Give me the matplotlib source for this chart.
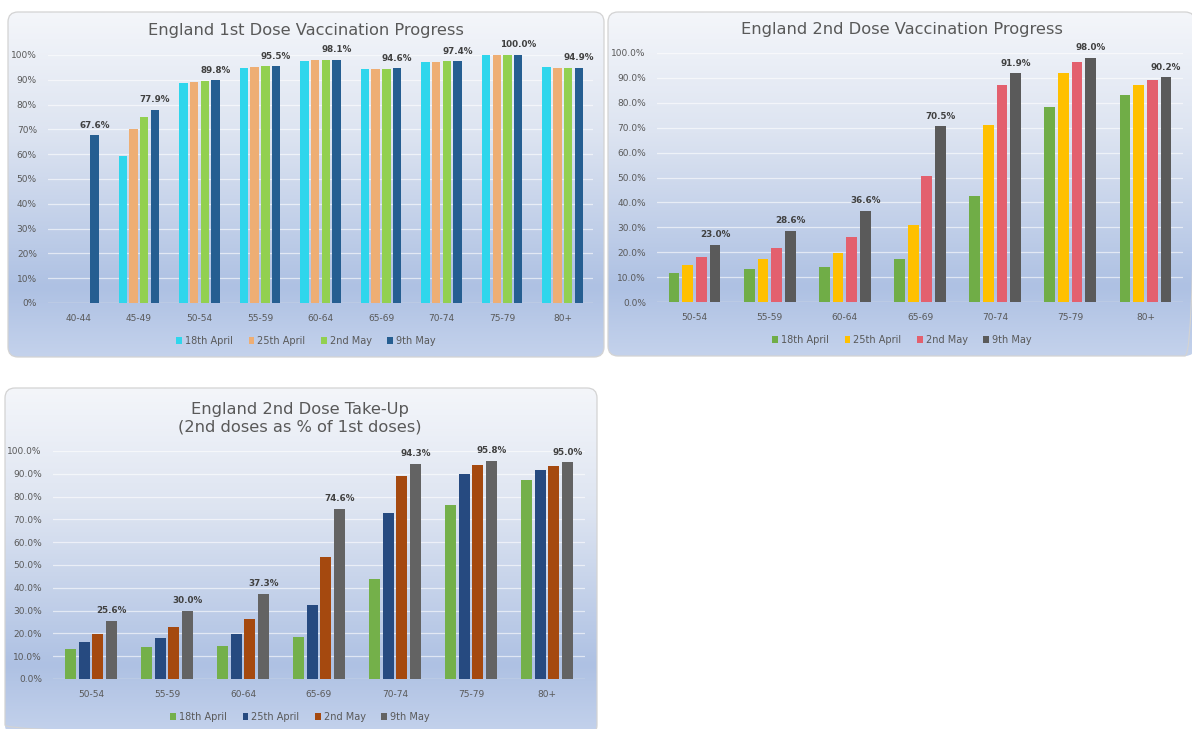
import matplotlib

matplotlib.use("Agg")

import matplotlib.pyplot as plt
import numpy as np
from matplotlib.patches import FancyBboxPatch, Patch
from matplotlib.colors import to_rgb

# ---- data ----
dates = ["18th April", "25th April", "2nd May", "9th May"]

ages_first = ["40-44", "45-49", "50-54", "55-59", "60-64", "65-69", "70-74", "75-79", "80+"]
first_apr18 = [np.nan, 59.4, 88.9, 94.9, 97.7, 94.3, 97.3, 99.9, 95.0]
first_apr25 = [np.nan, 70.2, 89.3, 95.2, 98.0, 94.4, 97.3, 100.0, 94.9]
first_may02 = [np.nan, 74.8, 89.6, 95.4, 98.0, 94.5, 97.4, 100.0, 94.9]
first_may09 = [67.6, 77.9, 89.8, 95.5, 98.1, 94.6, 97.4, 100.0, 94.9]

ages_second = ["50-54", "55-59", "60-64", "65-69", "70-74", "75-79", "80+"]
second_apr18 = [11.7, 13.3, 14.1, 17.2, 42.7, 78.2, 83.1]
second_apr25 = [14.8, 17.3, 19.7, 30.8, 71.0, 92.0, 87.0]
second_may02 = [18.0, 21.6, 26.1, 50.5, 87.0, 96.2, 89.0]
second_may09 = [23.0, 28.6, 36.6, 70.5, 91.9, 98.0, 90.2]

takeup_apr18 = [13.1, 14.1, 14.3, 18.4, 43.9, 76.3, 87.4]
takeup_apr25 = [16.3, 18.1, 19.8, 32.5, 72.7, 89.8, 91.5]
takeup_may02 = [19.8, 22.6, 26.5, 53.3, 88.9, 93.7, 93.6]
takeup_may09 = [25.6, 30.0, 37.3, 74.6, 94.3, 95.8, 95.0]

W, H = 1192, 729
TXT = "#595959"

fig = plt.figure(figsize=(W / 100, H / 100), dpi=100, facecolor="white")

# background layer in pixel coordinates
bg = fig.add_axes([0, 0, 1, 1])
bg.set_xlim(0, W)
bg.set_ylim(H, 0)
bg.axis("off")

stops = [(0.0, "#F4F6FA"), (0.35, "#DDE4F1"), (0.8, "#AEC1E3"), (1.0, "#C4D2EC")]
pos = np.linspace(0, 1, 256)
grad = np.zeros((256, 1, 3))
for c in range(3):
    grad[:, 0, c] = np.interp(pos, [s[0] for s in stops], [to_rgb(s[1])[c] for s in stops])


def panel_box(x0, y0, x1, y1):
    box = FancyBboxPatch((x0, y0), x1 - x0, y1 - y0,
                         boxstyle="round,pad=0,rounding_size=10",
                         facecolor="none", edgecolor="#D3D3D3", linewidth=0.9, zorder=2)
    bg.add_patch(box)
    im = bg.imshow(grad, extent=[x0, x1, y1, y0], aspect="auto", zorder=1)
    im.set_clip_path(box)


panel_box(8, 12, 604, 357)
panel_box(608, 12, 1195, 356)
panel_box(5, 388, 597, 735)


def px_axes(x0, y0, x1, y1):
    return fig.add_axes([x0 / W, 1 - y1 / H, (x1 - x0) / W, (y1 - y0) / H])


def bar_panel(ax, cats, series, colors, step, width, tick_fmt, title, title_y, legend_y, cx):
    x = np.arange(len(cats))
    for i, (vals, col) in enumerate(zip(series, colors)):
        ax.bar(x + (i - 1.5) * step, vals, width=width, color=col, zorder=3)
    # labels only on the latest series
    for xi, v in zip(x, series[-1]):
        ax.annotate("{:.1f}%".format(v), (xi + 1.5 * step, v), xytext=(0, 4),
                    textcoords="offset points", ha="center", va="bottom",
                    fontsize=6.3, fontweight="bold", color="#404040", zorder=4)
    ax.set_facecolor("none")
    ax.set_xlim(-0.5, len(cats) - 0.5)
    ax.set_ylim(0, 100)
    ticks = np.arange(0, 101, 10)
    ax.set_yticks(ticks)
    ax.set_yticklabels([tick_fmt.format(t) for t in ticks])
    ax.set_xticks(x)
    ax.set_xticklabels(cats)
    ax.tick_params(length=0, labelsize=6.5, labelcolor=TXT)
    ax.tick_params(axis="x", pad=8)
    ax.tick_params(axis="y", pad=8)
    for s in ax.spines.values():
        s.set_visible(False)
    ax.grid(axis="y", color="white", alpha=0.6, linewidth=0.9, zorder=0)
    ax.axhline(0, color="#D9D9D9", linewidth=0.9, zorder=2)
    bg.text(cx, title_y, title, ha="center", va="center", fontsize=11.7,
            color=TXT, linespacing=1.2, zorder=5)
    handles = [Patch(facecolor=c, label=d) for c, d in zip(colors, dates)]
    leg = fig.legend(handles=handles, loc="center", ncol=4, frameon=False,
                     bbox_to_anchor=(cx / W, 1 - legend_y / H), fontsize=7,
                     handlelength=0.6, handleheight=0.6, handletextpad=0.3,
                     columnspacing=1.6)
    for t in leg.get_texts():
        t.set_color(TXT)


ax1 = px_axes(48, 55, 593, 303)
bar_panel(ax1, ages_first, [first_apr18, first_apr25, first_may02, first_may09],
          ["#2FD6EC", "#EEAE74", "#92D050", "#255E91"], 0.177, 0.14, "{:.0f}%",
          "England 1st Dose Vaccination Progress", 30, 341, 306)

ax2 = px_axes(657, 53, 1183, 302)
bar_panel(ax2, ages_second, [second_apr18, second_apr25, second_may02, second_may09],
          ["#70AD47", "#FFC000", "#E3606E", "#5A5A5A"], 0.182, 0.143, "{:.1f}%",
          "England 2nd Dose Vaccination Progress", 29, 340, 902)

ax3 = px_axes(53, 451, 585, 679)
bar_panel(ax3, ages_second, [takeup_apr18, takeup_apr25, takeup_may02, takeup_may09],
          ["#74B04A", "#264A80", "#A5490F", "#636363"], 0.179, 0.145, "{:.1f}%",
          "England 2nd Dose Take-Up\n(2nd doses as % of 1st doses)", 418, 717, 300)

fig.savefig("out.png", dpi=100, facecolor="white")
